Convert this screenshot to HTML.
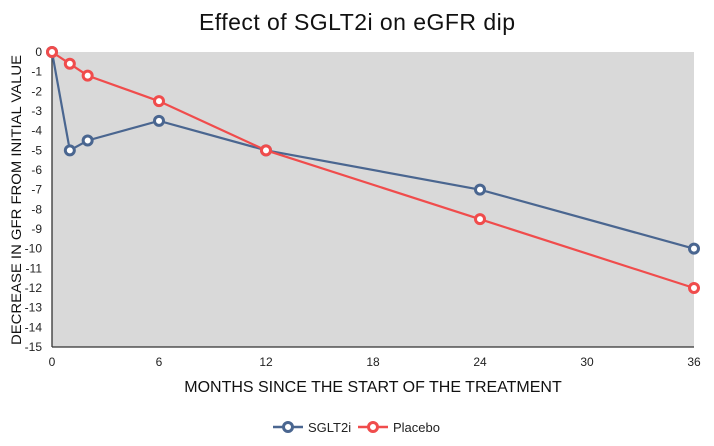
<!DOCTYPE html>
<html><head><meta charset="utf-8"><style>
body{margin:0;background:#fff;font-family:"Liberation Sans",sans-serif}
</style></head><body>
<svg width="714" height="441" viewBox="0 0 714 441">
<text x="357" y="30" text-anchor="middle" font-size="23" fill="#111" textLength="316">Effect of SGLT2i on eGFR dip</text>
<rect x="52" y="52" width="642" height="295" fill="#d9d9d9"/>
<g id="yt"></g>
<g id="xt"></g>
<line x1="52" y1="52" x2="52" y2="347" stroke="#333" stroke-width="1.3"/>
<line x1="52" y1="347" x2="694" y2="347" stroke="#333" stroke-width="1.3"/>
<g id="series"></g>
<text transform="translate(21,200) rotate(-90)" text-anchor="middle" font-size="14" fill="#111" textLength="290" lengthAdjust="spacingAndGlyphs">DECREASE IN GFR FROM INITIAL VALUE</text>
<text x="373" y="392" text-anchor="middle" font-size="16" fill="#111">MONTHS SINCE THE START OF THE TREATMENT</text>
<g>
<line x1="273" y1="427" x2="303" y2="427" stroke="#4a6690" stroke-width="2.5"/>
<circle cx="288" cy="427" r="4.5" fill="#fff" stroke="#4a6690" stroke-width="3"/>
<text x="308" y="432" font-size="13" fill="#222">SGLT2i</text></g>
<g>
<line x1="358" y1="427" x2="388" y2="427" stroke="#f04c4c" stroke-width="2.5"/>
<circle cx="373" cy="427" r="4.5" fill="#fff" stroke="#f04c4c" stroke-width="3"/>
<text x="393" y="432" font-size="13" fill="#222">Placebo</text></g>
</svg>
<script>
const months=[0,1,2,6,12,24,36];
const sglt2i=[0,-5,-4.5,-3.5,-5,-7,-10];
const placebo=[0,-0.6,-1.2,-2.5,-5,-8.5,-12];
const yTicks=[0,-1,-2,-3,-4,-5,-6,-7,-8,-9,-10,-11,-12,-13,-14,-15];
const xTicks=[0,6,12,18,24,30,36];
const NS="http://www.w3.org/2000/svg";
const X=v=>52+v/36*642, Y=v=>52+(-v)/15*295;
const yt=document.getElementById('yt'),xt=document.getElementById('xt'),sg=document.getElementById('series');
yTicks.forEach(t=>{const e=document.createElementNS(NS,'text');


e.setAttribute('x',42);e.setAttribute('y',Y(t)+4);e.setAttribute('text-anchor','end');e.setAttribute('font-size','12');e.setAttribute('fill','#222');e.textContent=t;yt.appendChild(e);});
xTicks.forEach(t=>{const e=document.createElementNS(NS,'text');


e.setAttribute('x',X(t));e.setAttribute('y',366);e.setAttribute('text-anchor','middle');e.setAttribute('font-size','12');e.setAttribute('fill','#222');e.textContent=t;xt.appendChild(e);});
function draw(vals,col,name){
const p=document.createElementNS(NS,'polyline');


p.setAttribute('points',vals.map((v,i)=>X(months[i])+','+Y(v)).join(' '));p.setAttribute('fill','none');p.setAttribute('stroke',col);p.setAttribute('stroke-width','2.2');sg.appendChild(p);
vals.forEach((v,i)=>{const c=document.createElementNS(NS,'circle');


c.setAttribute('cx',X(months[i]));c.setAttribute('cy',Y(v));c.setAttribute('r','4.5');c.setAttribute('fill','#fff');c.setAttribute('stroke',col);c.setAttribute('stroke-width','3');sg.appendChild(c);});}
draw(sglt2i,'#4a6690','sglt2i');
draw(placebo,'#f04c4c','placebo');
</script>
</body></html>
